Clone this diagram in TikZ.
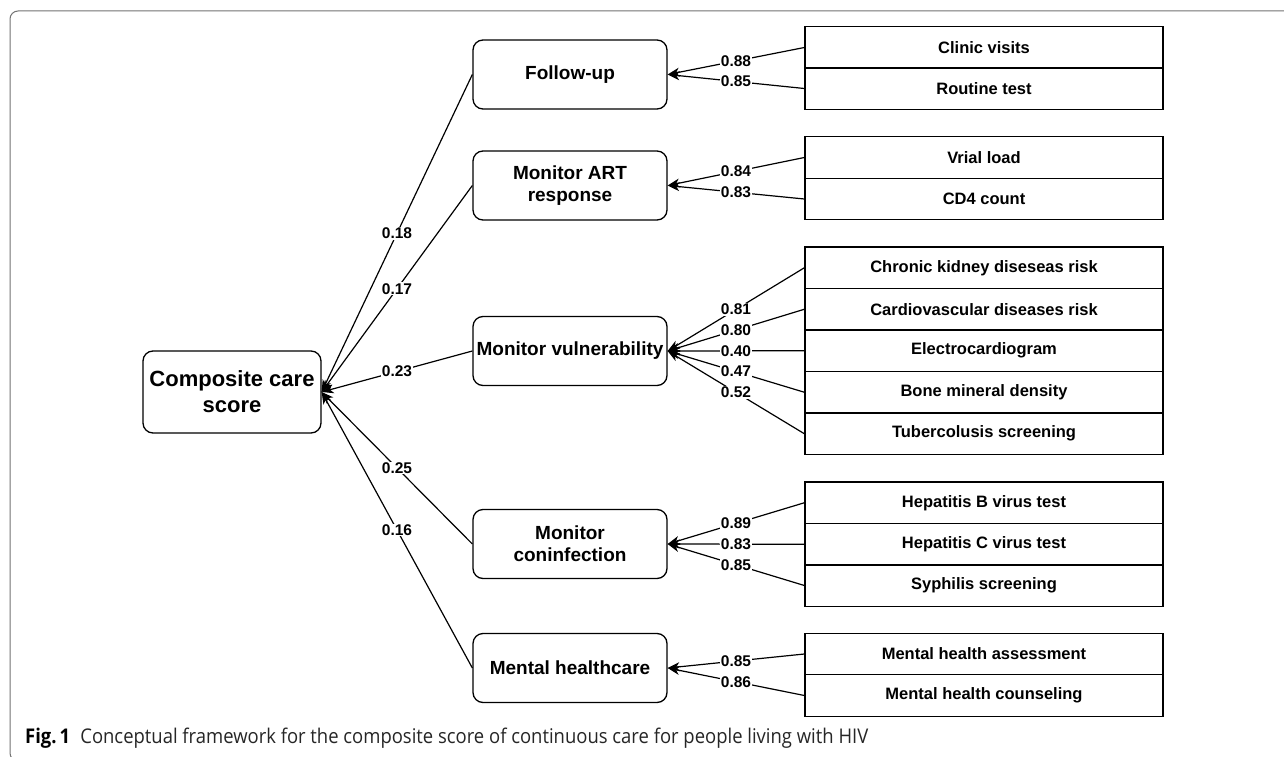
\documentclass[tikz,border=0pt]{standalone}
\usepackage{graphicx}
\usepackage{fontspec}
\setmainfont{Liberation Sans}
\newfontfamily\capfont{Open Sans}
\usetikzlibrary{arrows.meta}
\begin{document}
\begin{tikzpicture}[x=1pt,y=-1pt,
  midbox/.style={draw, rounded corners=10pt, line width=1.3pt, minimum width=194pt, minimum height=69pt, align=center, font=\fontsize{19}{22}\selectfont\bfseries, inner sep=0pt},
  mainbox/.style={draw, rounded corners=10pt, line width=1.3pt, minimum width=178pt, minimum height=82pt, align=center, font=\fontsize{22}{26}\selectfont\bfseries, inner sep=0pt},
  indbox/.style={draw, line width=1.3pt, minimum width=358pt, minimum height=41.4pt, font=\fontsize{16.5}{19}\selectfont\bfseries, inner sep=0pt},
  conn/.style={line width=1.2pt, -{Stealth[length=12pt,width=9pt,inset=3.5pt]}},
  wt/.style={fill=white, inner sep=0.8pt, font=\fontsize{15.5}{17}\selectfont\bfseries},
]
\useasboundingbox (0,0) rectangle (1284,757);
\fill[white] (0,0) rectangle (1284,757);
\draw[black!55, line width=1pt, rounded corners=8pt] (1300,11) -- (10,11) -- (10,761) -- (1300,761);

% main node
\node[mainbox] (cc) at (232,392) {Composite care\\score};

% middle nodes
\node[midbox] (fu) at (570,74.5) {Follow-up};
\node[midbox] (art) at (570,185.5) {Monitor ART\\response};
\node[midbox] (vul) at (570,351) {Monitor vulnerability};
\node[midbox] (coi) at (570,544) {Monitor\\coninfection};
\node[midbox] (men) at (570,668) {Mental healthcare};

% indicators
\node[indbox] (a1) at (984,47.5) {Clinic visits};
\node[indbox] (a2) at (984,88.5) {Routine test};
\node[indbox] (b1) at (984,157.5) {Vrial load};
\node[indbox] (b2) at (984,199) {CD4 count};
\node[indbox] (c1) at (984,267.75) {Chronic kidney diseseas risk};
\node[indbox] (c2) at (984,309.25) {Cardiovascular diseases risk};
\node[indbox] (c3) at (984,350.75) {Electrocardiogram};
\node[indbox] (c4) at (984,392.25) {Bone mineral density};
\node[indbox] (c5) at (984,433.75) {Tubercolusis screening};
\node[indbox] (d1) at (984,502.75) {Hepatitis B virus test};
\node[indbox] (d2) at (984,544.25) {Hepatitis C virus test};
\node[indbox] (d3) at (984,585.5) {Syphilis screening};
\node[indbox] (e1) at (984,654) {Mental health assessment};
\node[indbox] (e2) at (984,695.5) {Mental health counseling};

% indicator loadings
\draw[conn] (a1.west) -- node[wt]{0.88} (fu.east);
\draw[conn] (a2.west) -- node[wt]{0.85} (fu.east);
\draw[conn] (b1.west) -- node[wt]{0.84} (art.east);
\draw[conn] (b2.west) -- node[wt]{0.83} (art.east);
\draw[conn] (c1.west) -- node[wt]{0.81} (vul.east);
\draw[conn] (c2.west) -- node[wt]{0.80} (vul.east);
\draw[conn] (c3.west) -- node[wt]{0.40} (vul.east);
\draw[conn] (c4.west) -- node[wt]{0.47} (vul.east);
\draw[conn] (c5.west) -- node[wt]{0.52} (vul.east);
\draw[conn] (d1.west) -- node[wt]{0.89} (coi.east);
\draw[conn] (d2.west) -- node[wt]{0.83} (coi.east);
\draw[conn] (d3.west) -- node[wt]{0.85} (coi.east);
\draw[conn] (e1.west) -- node[wt]{0.85} (men.east);
\draw[conn] (e2.west) -- node[wt]{0.86} (men.east);

% domain weights
\draw[conn] (fu.west) -- node[wt]{0.18} (cc.east);
\draw[conn] (art.west) -- node[wt]{0.17} (cc.east);
\draw[conn] (vul.west) -- node[wt]{0.23} (cc.east);
\draw[conn] (coi.west) -- node[wt]{0.25} (cc.east);
\draw[conn] (men.west) -- node[wt]{0.16} (cc.east);

% caption
\node[anchor=base west, inner sep=0pt] (cap) at (25,743) {\resizebox{843pt}{15.5pt}{\capfont\color{black!85}{\bfseries\color{black}Fig.\,1}\hspace{0.55em}Conceptual framework for the composite score of continuous care for people living with HIV}};
\end{tikzpicture}
\end{document}
